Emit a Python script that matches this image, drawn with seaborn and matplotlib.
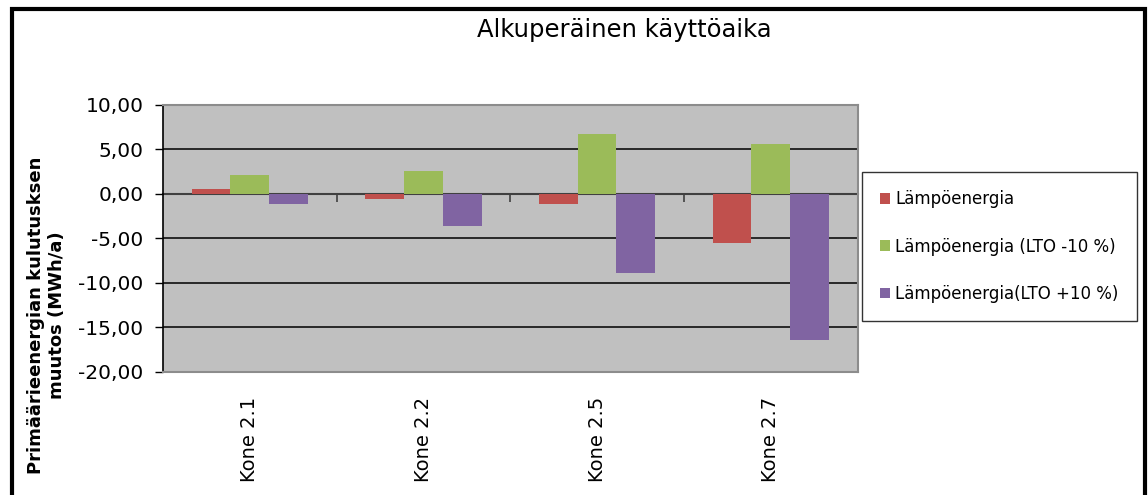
import matplotlib
matplotlib.use("Agg")
import matplotlib.pyplot as plt
import seaborn as sns
import pandas as pd
from matplotlib.patches import Rectangle
from matplotlib.ticker import FuncFormatter

categories = ["Kone 2.1", "Kone 2.2", "Kone 2.5", "Kone 2.7"]
series_names = ["Lämpöenergia", "Lämpöenergia (LTO -10 %)", "Lämpöenergia(LTO +10 %)"]
lampo = [0.52, -0.56, -1.09, -5.50]
lto_minus = [2.10, 2.62, 6.78, 5.58]
lto_plus = [-1.09, -3.63, -8.91, -16.37]
colors = ["#C0504D", "#9BBB59", "#8064A2"]
yticks = [10, 5, 0, -5, -10, -15, -20]
title = "Alkuperäinen käyttöaika"
ylabel = "Primäärieenergian kulutusksen\nmuutos (MWh/a)"

rows = []
for name, vals in zip(series_names, [lampo, lto_minus, lto_plus]):
    for c, v in zip(categories, vals):
        rows.append({"Kone": c, "Sarja": name, "Arvo": v})
df = pd.DataFrame(rows)

sns.set_theme(style="white")
plt.rcParams["font.family"] = ["DejaVu Sans"]
plt.rcParams["text.color"] = "black"
plt.rcParams["xtick.color"] = "black"
plt.rcParams["ytick.color"] = "black"
plt.rcParams["axes.labelcolor"] = "black"

fig = plt.figure(figsize=(11.48, 4.95), dpi=100)
ax = fig.add_axes([0.142, 0.2485, 0.605, 0.5395])
ax.set_facecolor("#C0C0C0")

sns.barplot(data=df, x="Kone", y="Arvo", hue="Sarja", hue_order=series_names,
            order=categories, palette=colors, width=0.67, saturation=1,
            edgecolor="none", linewidth=0, ax=ax, zorder=3)

ax.set_ylim(-20, 10)
ax.set_xlim(-0.5, 3.5)
ax.set_yticks(yticks)
ax.yaxis.set_major_formatter(FuncFormatter(lambda v, p: f"{v:.2f}".replace(".", ",")))
for y in yticks:
    if y not in (0, 10, -20):
        ax.axhline(y, color="black", lw=1.1, zorder=1)

for s in ["top", "right", "bottom"]:
    ax.spines[s].set_color("#8C8C8C")
    ax.spines[s].set_linewidth(1.5)
ax.spines["left"].set_color("black")
ax.spines["left"].set_linewidth(1.2)

ax.tick_params(axis="y", direction="out", length=6, width=1, color="black",
               labelsize=14.5, pad=8, left=True, labelcolor="black")
ax.tick_params(axis="x", length=0, labelsize=14, pad=18, labelrotation=90, labelcolor="black")
ax.set_xlabel("")
ax.set_ylabel(ylabel, fontsize=13, fontweight="bold", linespacing=1.2, color="black")
ax.yaxis.set_label_coords(-0.14, 0.213)

sec = ax.secondary_xaxis(2 / 3)
sec.set_xticks([0.5, 1.5, 2.5, 3.5])
sec.tick_params(direction="in", length=6, width=1.2, color="#404040", labelbottom=False, labeltop=False)
sec.spines["bottom"].set_color("#404040")
sec.spines["bottom"].set_linewidth(1.5)
sec.spines["top"].set_color("#404040")
sec.spines["top"].set_linewidth(1.5)

handles, labels = ax.get_legend_handles_labels()
ax.legend(handles, labels, loc="center left", bbox_to_anchor=(0.751, 0.502),
          bbox_transform=fig.transFigure, frameon=True, fancybox=False,
          edgecolor="black", fontsize=12, handlelength=0.6, handleheight=0.6,
          handletextpad=0.3, labelspacing=1.75, borderpad=1.1, borderaxespad=0)
ax.get_legend().get_frame().set_linewidth(1.0)
for t in ax.get_legend().get_texts():
    t.set_color("black")

fig.text(0.5436, 0.94, title, ha="center", va="center", fontsize=17.5, color="black")
fig.patches.append(Rectangle((0.0105, -0.02), 0.9865, 1.002, transform=fig.transFigure,
                             fill=False, edgecolor="black", linewidth=3))

fig.savefig("out.png", dpi=100)
